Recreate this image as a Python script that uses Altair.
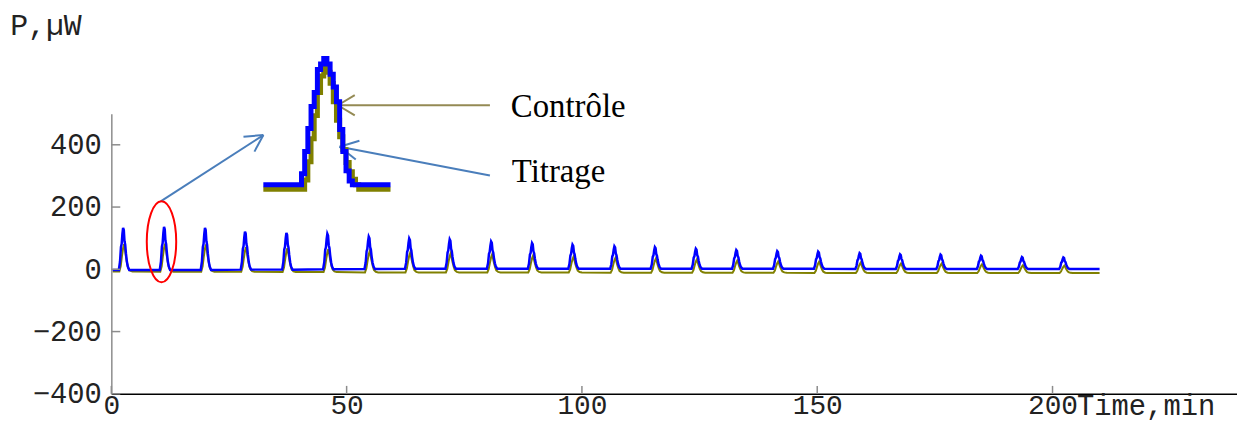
import altair as alt
import pandas as pd

# ---------------- data ----------------
peak_time = [2.5, 11.2, 19.9, 28.4, 37.2, 45.9, 54.7, 63.3, 71.9, 80.7, 89.4, 98.0,
             106.9, 115.5, 124.2, 132.8, 141.5, 150.2, 159.0, 167.6, 176.2, 184.8, 193.5, 202.3]
titrage_top = [133, 136, 133, 121, 117, 114, 105, 99, 96, 89, 84, 79,
               74, 71, 66, 62, 58, 57, 52, 48, 47, 44, 39, 38]
titrage_base = [-2, -2, -2, -1, -1, 0, 1, 2, 2, 2, 2, 2,
                2, 2, 2, 2, 2, 2, 1, 1, 1, 1, 1, 1]
controle_top = [81, 82, 80, 71, 68, 65, 58, 53, 51, 47, 43, 40,
                36, 34, 31, 28, 25, 24, 21, 19, 18, 16, 13, 12]
controle_base = [-7, -8, -8, -8, -9, -9, -10, -10, -10, -10, -10, -10,
                 -11, -11, -11, -11, -11, -12, -12, -12, -12, -12, -12, -12]
t_start, t_end = 0.3, 210.0

# peak profiles (offset in min, fraction of height)
titrage_off = [-0.9, -0.65, -0.45, -0.3, -0.15, 0.0, 0.15, 0.3, 0.45, 0.6, 0.8, 1.0, 1.3]
titrage_frac = [0, 0.2, 0.55, 0.62, 0.85, 1.0, 0.95, 0.68, 0.6, 0.4, 0.2, 0.08, 0]
controle_off = [-0.8, -0.5, -0.25, 0.0, 0.2, 0.4, 0.6, 0.85, 1.1, 1.5, 2.0]
controle_frac = [0, 0.2, 0.55, 0.85, 1.0, 0.8, 0.55, 0.3, 0.12, 0.03, 0]

# inset (magnified 2nd peak)
inset_t = [9.0, 10.5, 10.625, 10.75, 10.875, 11.0, 11.125, 11.25, 11.375, 11.5, 11.625,
           11.75, 11.875, 12.0, 12.125, 12.25, 12.375, 12.5, 12.625, 12.75, 14.0]
inset_titrage = [0, 12, 36, 61, 85, 100, 125, 131, 137, 131, 120,
                 106, 90, 60, 36, 15, 4, 0, 0, 0, 0]
inset_controle = [-5, -5, 5, 25, 50, 75, 100, 118, 128, 122, 110,
                  90, 70, 52, 38, 24, 14, 6, 0, -5, -5]

# annotations (data units: min, µW)
arrow_x1 = [10.49, 32.31, 32.31, 80.45, 48.14, 48.14, 80.45, 48.50, 48.50]
arrow_y1 = [218.5, 431.3, 431.3, 527.0, 527.0, 527.0, 301.4, 393.9, 393.9]
arrow_x2 = [32.31, 28.08, 30.41, 48.14, 51.73, 51.73, 48.50, 52.72, 51.94]
arrow_y2 = [431.3, 425.8, 378.0, 527.0, 559.8, 494.4, 393.9, 413.1, 352.5]
arrow_col = ["#4a7ebb"] * 3 + ["#948a54"] * 3 + ["#4a7ebb"] * 3
ellipse_x, ellipse_y = [10.66], [88.4]
label_text = ["Contrôle", "Titrage"]
label_x = [84.9, 85.1]
label_y = [489.6, 279.1]
y_ticks = [-400, -200, 0, 200, 400]
x_ticks = [0, 50, 100, 150, 200]

# ---------------- build tables ----------------
def build(top, base, off, frac):
    rows = [(t_start, base[0])]
    for k, tp in enumerate(peak_time):
        h = top[k] - base[k]
        for o, f in zip(off, frac):
            rows.append((tp + o, base[k] + h * f))
    rows.append((t_end, base[-1]))
    return pd.DataFrame(rows, columns=["t", "p"])

df_tit = build(titrage_top, titrage_base, titrage_off, titrage_frac)
df_con = build(controle_top, controle_base, controle_off, controle_frac)
df_inset = pd.DataFrame({"t": inset_t, "tit": inset_titrage, "con": inset_controle})
df_arrows = pd.DataFrame({"x1": arrow_x1, "y1": arrow_y1, "x2": arrow_x2, "y2": arrow_y2, "c": arrow_col})
df_labels = pd.DataFrame({"x": label_x, "y": label_y, "txt": label_text})
df_ell = pd.DataFrame({"x": ellipse_x, "y": ellipse_y})
df_yt = pd.DataFrame({"v": y_ticks, "x0": [0] * 5, "x1": [1.9] * 5})
df_xt = pd.DataFrame({"v": x_ticks, "y0": [-400] * 5, "y1": [-374.5] * 5})
df_ptitle = pd.DataFrame({"x": [-21.5], "y": [751.2], "txt": ["P,µW"]})
df_xtitle = pd.DataFrame({"x": [205.2], "y": [-467.3], "txt": ["Time,min"]})

XS = alt.Scale(domain=[0, 239.2], nice=False, zero=False)
YS = alt.Scale(domain=[-400, 500], nice=False, zero=False)
MONO = "Liberation Mono"

x_axis = alt.Axis(values=x_ticks, ticks=False, grid=False, domainColor="#000000",
                  domainWidth=1.5, labelFont=MONO, labelFontSize=28, labelColor="#222222",
                  labelBaseline="alphabetic", labelPadding=20, title=None, labelFlush=False)
y_axis = alt.Axis(values=y_ticks, ticks=False, grid=False, domainColor="#8c8c8c",
                  domainWidth=1.5, labelFont=MONO, labelFontSize=29, labelColor="#222222",
                  labelPadding=10, title=None)


def X(field):
    return alt.X(field, scale=XS, axis=x_axis)


def Y(field):
    return alt.Y(field, scale=YS, axis=y_axis)


con_line = alt.Chart(df_con).mark_line(color="#808000", strokeWidth=2).encode(
    x=X("t:Q"), y=Y("p:Q"))
tit_line = alt.Chart(df_tit).mark_line(color="#0000ff", strokeWidth=2.5).encode(
    x=X("t:Q"), y=Y("p:Q"))
ytick = alt.Chart(df_yt).mark_rule(color="#8c8c8c", strokeWidth=1.5).encode(
    x=X("x0:Q"), x2="x1:Q", y=Y("v:Q"))
xtick = alt.Chart(df_xt).mark_rule(color="#8c8c8c", strokeWidth=1.5).encode(
    x=X("v:Q"), y=Y("y0:Q"), y2="y1:Q")
arrows = alt.Chart(df_arrows).mark_rule(strokeWidth=2).encode(
    x=X("x1:Q"), x2="x2:Q", y=Y("y1:Q"), y2="y2:Q",
    color=alt.Color("c:N", scale=None, legend=None))
k = 0.5523
rx = 0.363
ell_path = (f"M 0 -1 C {k*rx:.4f} -1 {rx} {-k} {rx} 0 C {rx} {k} {k*rx:.4f} 1 0 1 "
            f"C {-k*rx:.4f} 1 {-rx} {k} {-rx} 0 C {-rx} {-k} {-k*rx:.4f} -1 0 -1 Z")
ellipse = alt.Chart(df_ell).mark_point(shape=ell_path, size=6659, filled=False,
                                       stroke="#ff0000", strokeWidth=2, opacity=1).encode(
    x=X("x:Q"), y=Y("y:Q"))
labels = alt.Chart(df_labels).mark_text(font="Liberation Serif", fontSize=33, align="left",
                                        baseline="alphabetic", color="#000000").encode(
    x=X("x:Q"), y=Y("y:Q"), text="txt:N")
ptitle = alt.Chart(df_ptitle).mark_text(font=MONO, fontSize=30, align="left",
                                        baseline="alphabetic", color="#222222").encode(
    x=X("x:Q"), y=Y("y:Q"), text="txt:N")
xtitle = alt.Chart(df_xtitle).mark_text(font=MONO, fontSize=29, align="left",
                                        baseline="alphabetic", color="#222222").encode(
    x=X("x:Q"), y=Y("y:Q"), text="txt:N")

main = alt.layer(con_line, tit_line, ytick, xtick, arrows, ellipse, labels, ptitle, xtitle)

IXS = alt.Scale(domain=[9, 14], range=[153, 281], nice=False, zero=False)
IYS = alt.Scale(domain=[0, 137], range=[71.5, -55.5], nice=False, zero=False)
inset_con = alt.Chart(df_inset).mark_line(color="#808000", strokeWidth=5,
                                          interpolate="step-after").encode(
    x=alt.X("t:Q", scale=IXS, axis=None),
    y=alt.Y("con:Q", scale=IYS, axis=None),
)
inset_tit = alt.Chart(df_inset).mark_line(color="#0000ff", strokeWidth=5,
                                          interpolate="step-after").encode(
    x=alt.X("t:Q", scale=IXS, axis=None),
    y=alt.Y("tit:Q", scale=IYS, axis=None),
)
inset = alt.layer(inset_con, inset_tit)

chart = alt.layer(main, inset).resolve_scale(x="independent", y="independent").properties(
    width=1133, height=282,
    autosize=alt.AutoSizeParams(type="none"),
    padding={"left": 104, "top": 105, "right": 0, "bottom": 28},
).configure_view(strokeWidth=0)

chart.save("out.html", embed_options={"renderer": "svg", "actions": False})
